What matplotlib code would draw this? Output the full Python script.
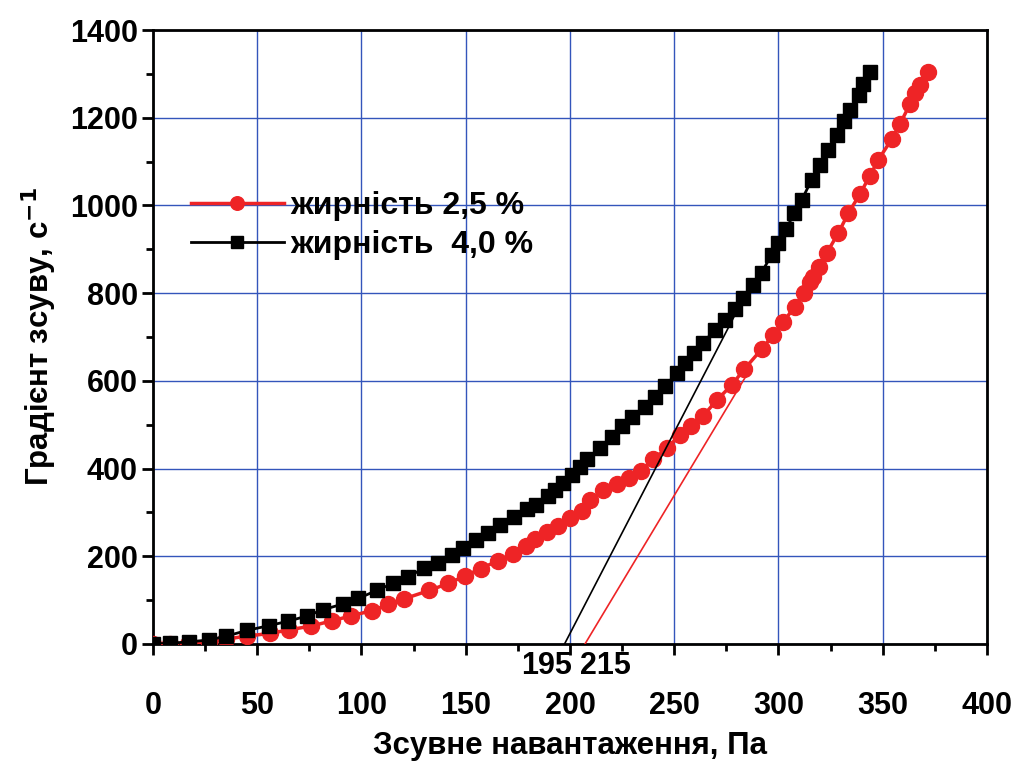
import matplotlib.pyplot as plt
from matplotlib.ticker import MultipleLocator

plt.rcParams['font.family'] = ['Liberation Sans', 'DejaVu Sans']
plt.rcParams['font.weight'] = 'bold'
plt.rcParams['mathtext.default'] = 'bf'

# fat 4.0 % (black squares)
x_40 = [0, 8.2, 17.3, 26.9, 35.2, 45.2, 55.8, 64.9, 74, 81.4, 91, 98.5, 107.3, 115, 122.2,
        130.1, 136.5, 143.3, 148.5, 154.9, 160.5, 166.4, 173.3, 179.2, 183.7, 189.3, 192.8,
        196.5, 200.8, 204.8, 208, 214.4, 220, 224.8, 229.6, 236, 240.8, 245.6, 251.2, 255.2,
        259.5, 263.9, 269.5, 274.3, 279.1, 283.1, 287.6, 291.9, 296.7, 299.9, 303.6, 307.6,
        311.1, 315.9, 319.9, 323.9, 328.2, 331.4, 334.3, 338.8, 340.7, 343.9]
y_40 = [0, 1.5, 5, 9, 18, 31, 42, 52, 64, 78, 91, 104, 122, 138, 153,
        173, 185, 204, 218, 236, 254, 271, 289, 307, 317, 337, 351,
        366, 385, 404, 421, 446, 473, 496, 518, 541, 564, 588, 617, 640,
        663, 687, 716, 739, 763, 790, 819, 847, 887, 914, 946, 982,
        1012, 1058, 1092, 1126, 1160, 1193, 1218, 1252, 1278, 1305]

# fat 2.5 % (red circles)
x_25 = [0, 8, 17, 27, 35, 45, 56, 65, 76, 86, 95, 104.9, 112.9, 120.5, 132.5, 141.6, 149.6,
        157.2, 165.6, 172.8, 178.9, 183.2, 188.8, 194.4, 200, 205.6, 209.6, 216, 222.4, 228.4,
        233.9, 239.9, 246.4, 252.8, 257.9, 263.9, 270.4, 277.5, 283.5, 291.9, 297.5, 302.3,
        307.9, 312.4, 315.1, 316.4, 319.6, 323.1, 328.7, 333.5, 339.1, 343.9, 347.9, 354.3,
        358.3, 363.1, 365.5, 367.9, 371.8]
y_25 = [0, 0, 0, 3, 11, 18, 24, 32, 41, 53, 64, 76, 90, 103, 122, 138, 155,
        172, 190, 205, 223, 239, 256, 269, 287, 304, 328, 351, 365, 378,
        395, 421, 446, 477, 496, 520, 556, 590, 626, 672, 705, 735,
        769, 801, 826, 836, 859, 891, 937, 982, 1026, 1068, 1104, 1151,
        1186, 1231, 1256, 1274, 1305]

# tangent lines (yield stress estimate)
tan_40_x = [197.4, 279.1]
tan_40_y = [0, 750]
tan_25_x = [207.2, 287.1]
tan_25_y = [0, 632]
yield_labels = ['195', '215']
yield_label_x = [188.8, 216.8]

labels = ['жирність 2,5 %', 'жирність  4,0 %']

fig = plt.figure(figsize=(10.16, 7.62), dpi=100)
ax = fig.add_axes([0.1506, 0.1549, 0.8208, 0.8057])

ax.plot(x_25, y_25, color='#ee2426', lw=2.5, marker='o', ms=11.5, mec='#ee2426',
        mfc='#ee2426', label=labels[0], zorder=4)
ax.plot(x_40, y_40, color='black', lw=2, marker='s', ms=10, label=labels[1], zorder=5)

ax.plot(tan_40_x, tan_40_y, color='black', lw=1.2, zorder=6)
ax.plot(tan_25_x, tan_25_y, color='#ee2426', lw=1.2, zorder=6)

for lab, xv in zip(yield_labels, yield_label_x):
    ax.text(xv, -50, lab, ha='center', va='center', fontsize=22, fontweight='bold',
            clip_on=False)

ax.set_xlim(0, 400)
ax.set_ylim(0, 1400)
ax.xaxis.set_major_locator(MultipleLocator(50))
ax.xaxis.set_minor_locator(MultipleLocator(25))
ax.yaxis.set_major_locator(MultipleLocator(200))
ax.yaxis.set_minor_locator(MultipleLocator(100))

ax.grid(True, which='major', color='#3355bb', lw=1)
ax.set_axisbelow(True)

for s in ax.spines.values():
    s.set_linewidth(2)
ax.tick_params(which='major', direction='out', length=8, width=2, labelsize=22)
ax.tick_params(which='minor', direction='out', length=5, width=2)
ax.tick_params(axis='x', which='major', pad=26)
ax.tick_params(axis='y', which='major', pad=3)

ax.set_xlabel('Зсувне навантаження, Па', fontsize=22.5, fontweight='bold', labelpad=7)
ax.set_ylabel('Градієнт зсуву, с$^{-1}$', fontsize=22.5, fontweight='bold', labelpad=8)

leg = ax.legend(loc='upper left', bbox_to_anchor=(0.011, 0.785), frameon=False, fontsize=23,
                handlelength=2.9, handletextpad=0.2, labelspacing=0.3, markerscale=0.85)

fig.savefig('out.png', dpi=100)
